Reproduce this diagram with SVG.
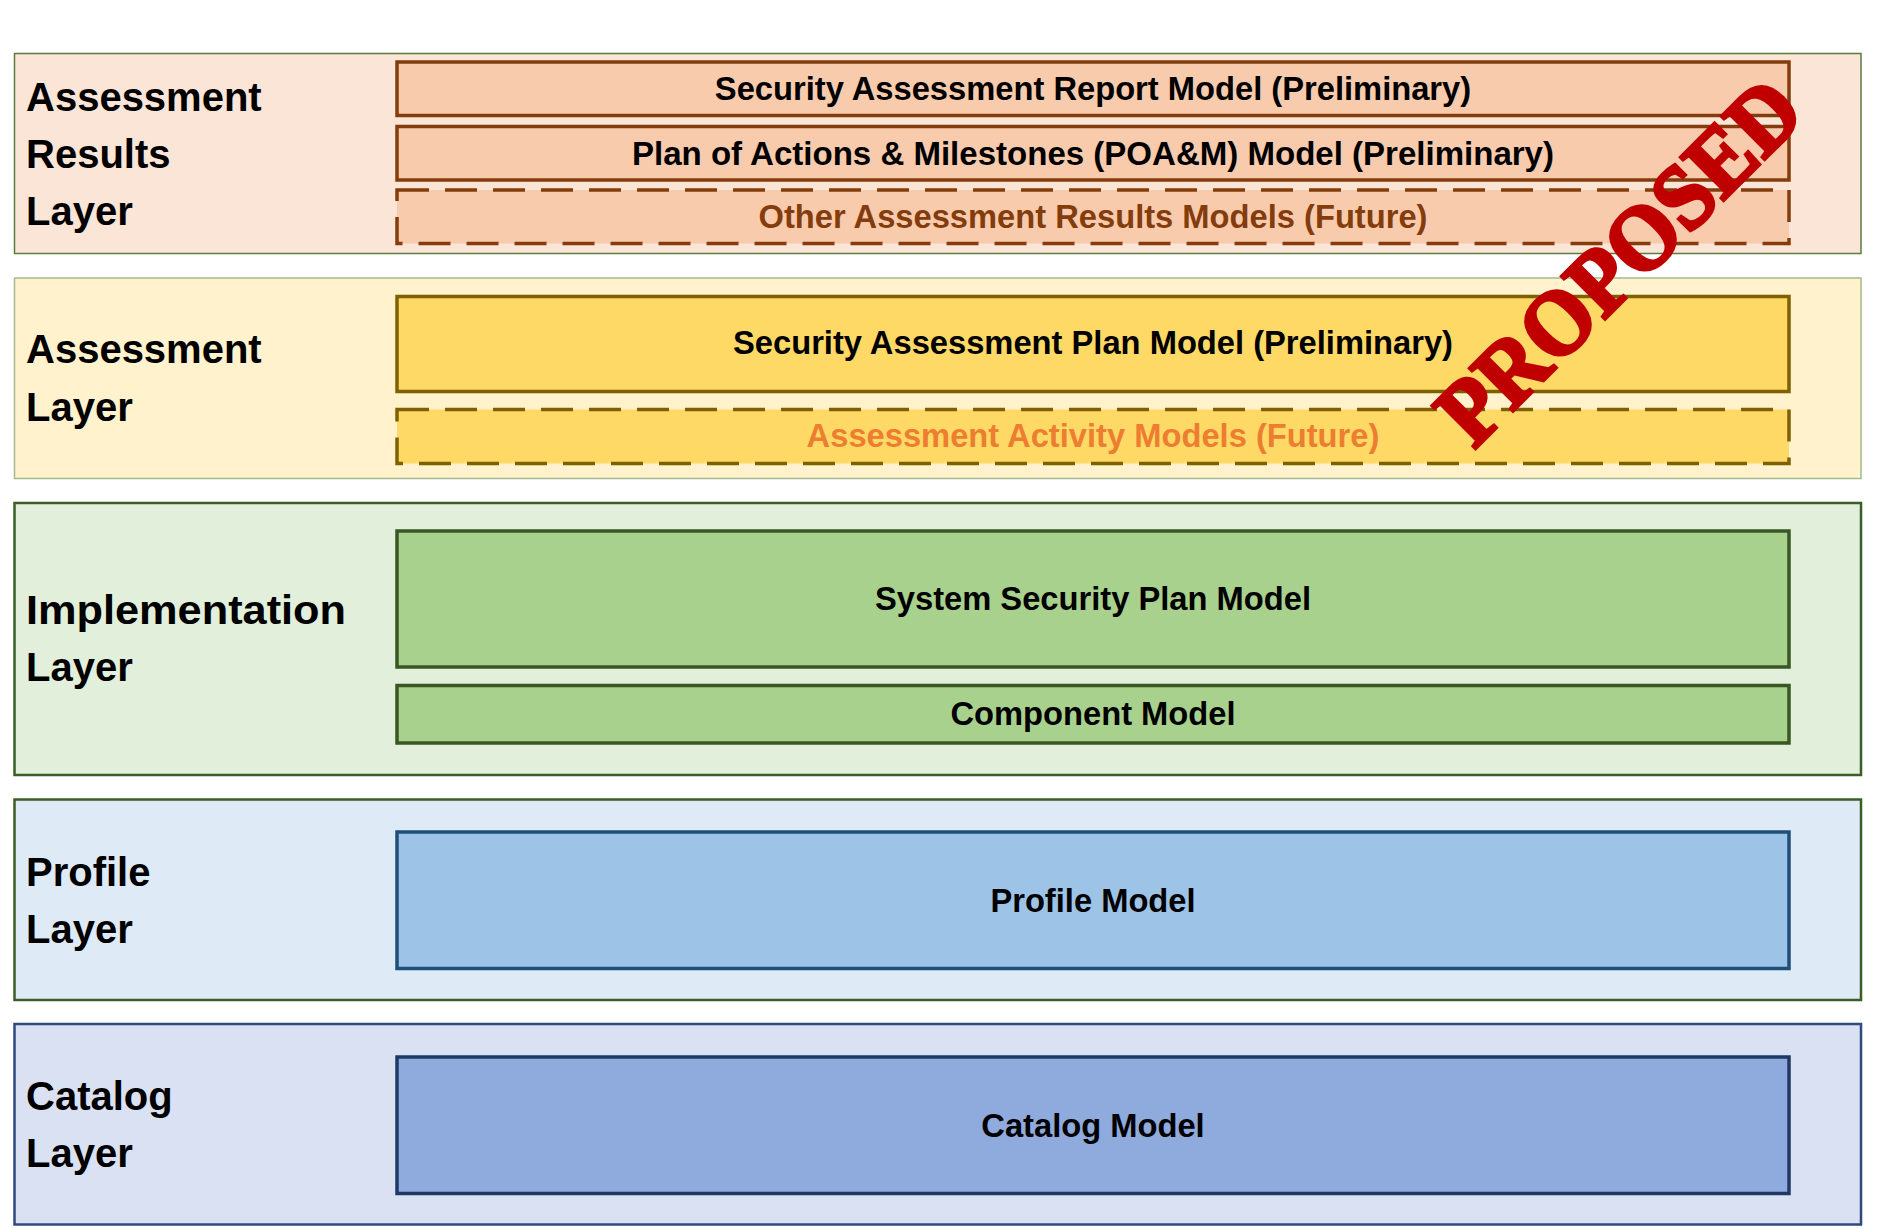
<svg xmlns="http://www.w3.org/2000/svg" width="1903" height="1228" viewBox="0 0 1903 1228">
<style>
  .lbl { font-family: "Liberation Sans", Arial, sans-serif; font-weight: bold; font-size: 40px; fill: #000; }
  .txt { font-family: "Liberation Sans", Arial, sans-serif; font-weight: bold; font-size: 32.7px; fill: #000; text-anchor: middle; }
  .inner { stroke-width: 3.5; }
  .dash { stroke-dasharray: 32 16; }
  .ar-in { fill: #F8CBAD; stroke: #843C0C; }
  .a-in { fill: #FFD966; stroke: #7F6000; }
  .i-in { fill: #A9D18E; stroke: #385723; }
  .p-in { fill: #9DC3E6; stroke: #1F4E79; }
  .c-in { fill: #8FAADC; stroke: #203864; }
  .stamp { font-family: "Liberation Serif", "Times New Roman", serif; font-weight: bold; font-size: 93px; fill: #C00000; stroke: #C00000; stroke-width: 3.5; stroke-linejoin: miter; }
</style>
<rect x="0" y="0" width="1903" height="1228" fill="#FFFFFF"/>

<g id="layer-assessment-results">
  <rect x="14.5" y="53.5" width="1846.5" height="200" fill="#FBE5D6" stroke="#5B7B3E" stroke-width="1.5"/>
  <text class="lbl" x="26" y="111">Assessment</text>
  <text class="lbl" x="26" y="168">Results</text>
  <text class="lbl" x="26" y="225">Layer</text>
</g>
<g id="node-sar">
  <rect class="inner ar-in" x="397" y="62" width="1392" height="53.5"/>
  <text class="txt" x="1093" y="99.5">Security Assessment Report Model (Preliminary)</text>
</g>
<g id="node-poam">
  <rect class="inner ar-in" x="397" y="126.5" width="1392" height="53.5"/>
  <text class="txt" x="1093" y="164.5" textLength="922" lengthAdjust="spacingAndGlyphs">Plan of Actions &amp; Milestones (POA&amp;M) Model (Preliminary)</text>
</g>
<g id="node-other-results">
  <rect class="inner ar-in dash" x="397" y="190" width="1392" height="53.5"/>
  <text class="txt" x="1093" y="228" style="fill:#843C0C">Other Assessment Results Models (Future)</text>
</g>

<g id="layer-assessment">
  <rect x="14.5" y="278" width="1846.5" height="200.5" fill="#FFF2CC" stroke="#A4BA8F" stroke-width="1.5"/>
  <text class="lbl" x="26" y="363">Assessment</text>
  <text class="lbl" x="26" y="421">Layer</text>
</g>
<g id="node-sap">
  <rect class="inner a-in" x="397" y="296.5" width="1392" height="95"/>
  <text class="txt" x="1093" y="354">Security Assessment Plan Model (Preliminary)</text>
</g>
<g id="node-activity">
  <rect class="inner a-in dash" x="397" y="409.5" width="1392" height="54"/>
  <text class="txt" x="1093" y="447" style="fill:#ED7D31">Assessment Activity Models (Future)</text>
</g>

<g id="layer-implementation">
  <rect x="14.5" y="503" width="1846.5" height="272" fill="#E2EFDA" stroke="#3B5E27" stroke-width="2.5"/>
  <text class="lbl" x="26" y="624" textLength="320" lengthAdjust="spacingAndGlyphs">Implementation</text>
  <text class="lbl" x="26" y="681">Layer</text>
</g>
<g id="node-ssp">
  <rect class="inner i-in" x="397" y="531" width="1392" height="136"/>
  <text class="txt" x="1093" y="610">System Security Plan Model</text>
</g>
<g id="node-component">
  <rect class="inner i-in" x="397" y="685.5" width="1392" height="57.5"/>
  <text class="txt" x="1093" y="725">Component Model</text>
</g>

<g id="layer-profile">
  <rect x="14.5" y="799.5" width="1846.5" height="200.5" fill="#DEEAF6" stroke="#3B5E27" stroke-width="2.5"/>
  <text class="lbl" x="26" y="886">Profile</text>
  <text class="lbl" x="26" y="943">Layer</text>
</g>
<g id="node-profile">
  <rect class="inner p-in" x="397" y="832" width="1392" height="136.5"/>
  <text class="txt" x="1093" y="911.5">Profile Model</text>
</g>

<g id="layer-catalog">
  <rect x="14.5" y="1024" width="1846.5" height="200.5" fill="#DAE1F3" stroke="#2F4A7C" stroke-width="2.5"/>
  <text class="lbl" x="26" y="1110">Catalog</text>
  <text class="lbl" x="26" y="1167">Layer</text>
</g>
<g id="node-catalog">
  <rect class="inner c-in" x="397" y="1057" width="1392" height="136.5"/>
  <text class="txt" x="1093" y="1136.5">Catalog Model</text>
</g>

<g id="connectors"></g>

<g id="stamp">
  <text class="stamp" x="1474" y="450" transform="rotate(-45 1474 450)" textLength="472" lengthAdjust="spacingAndGlyphs">PROPOSED</text>
</g>
</svg>
